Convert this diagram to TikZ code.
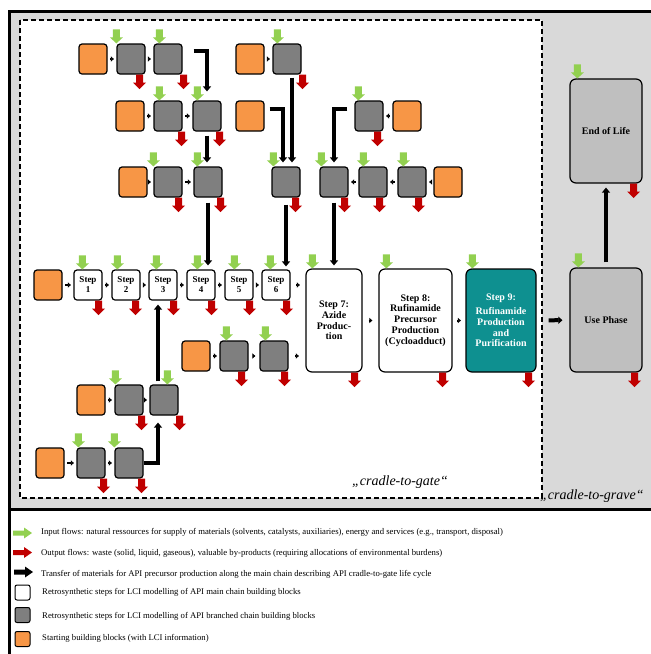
\documentclass[tikz,border=0pt]{standalone}
\usepackage{fontspec}
\setmainfont{Liberation Serif}
\usetikzlibrary{arrows.meta}
\definecolor{greenIn}{HTML}{92D050}
\definecolor{redOut}{HTML}{C00000}
\definecolor{orangeStart}{HTML}{F79646}
\definecolor{grayBranch}{HTML}{7F7F7F}
\definecolor{tealFinal}{HTML}{0E9090}
\definecolor{grayPhase}{HTML}{BFBFBF}
\definecolor{grayFrame}{HTML}{D9D9D9}
\tikzset{
  pics/inFlow/.style={code={%
    \fill[greenIn] (-3.5,-14) -- (3.5,-14) -- (3.5,-6) -- (6.5,-6)
      -- (0,0) -- (-6.5,-6) -- (-3.5,-6) -- cycle;}},          % green arrow down onto box
  pics/outFlow/.style={code={%
    \fill[redOut] (-3.5,0) -- (3.5,0) -- (3.5,8) -- (6.5,8)
      -- (0,14.5) -- (-6.5,8) -- (-3.5,8) -- cycle;}},         % red arrow down out of box
  pics/keyArrow/.style={code={%
    \fill[#1] (0,-2.5) -- (11,-2.5) -- (11,-5.5) -- (19,0)
      -- (11,5.5) -- (11,2.5) -- (0,2.5) -- cycle;}},          % legend arrow
  box/.style={draw=black,line width=1.2pt,rounded corners=3pt,
    minimum width=28pt,minimum height=30pt,inner sep=0pt},
  startBox/.style={box,fill=orangeStart},
  branchBox/.style={box,fill=grayBranch},
  stepBox/.style={box,fill=white,align=center,
    font=\fontsize{9}{10}\selectfont\bfseries},
  bigStep/.style={box,fill=white,rounded corners=6pt,minimum height=103pt,
    align=center,font=\fontsize{10}{10.8}\selectfont\bfseries},
  phaseBox/.style={bigStep,fill=grayPhase,minimum width=72pt,minimum height=104pt},
  keyBox/.style={box,line width=1pt,rounded corners=2pt,minimum width=15pt,minimum height=15pt},
  keyText/.style={anchor=west,inner sep=0pt,font=\fontsize{8.7}{10}\selectfont},
  scopeText/.style={inner sep=0pt,font=\fontsize{14}{16}\selectfont\itshape},
  xfer/.style={line width=3.2pt,-{Triangle[length=5pt,width=8pt]}},
  tinyArr/.style={line width=2pt,-{Triangle[length=3pt,width=5pt]},
    shorten <=#1,shorten >=#1},
  tinyArr/.default=2.5pt,
}
% #1 node, #2 green shift from west, #3 red shift from east
\newcommand{\flowsOn}[3]{%
  \pic at ([xshift=#2pt]#1.north west) {inFlow};
  \pic at ([xshift=#3pt]#1.south east) {outFlow};
}

\begin{document}
\begin{tikzpicture}[x=1pt,y=-1pt]
  \useasboundingbox (0,0) rectangle (651,654);
  \fill[grayFrame] (9,11) rectangle (651,509);
  \fill[white] (20,20) rectangle (542,498);
  \draw[line width=1.4pt,dash pattern=on 5pt off 3pt] (20,20) rectangle (542,498);
  \draw[line width=3pt] (651,11.5) -- (9.5,11.5) -- (9.5,654);
  \draw[line width=3pt] (9.5,509.5) -- (651,509.5);

  % branched chains
  \node[startBox]  (oA)  at (93,59)   {};
  \node[branchBox] (gA1) at (131,59)  {};
  \node[branchBox] (gA2) at (168,59)  {};
  \node[startBox]  (oB)  at (250,59)  {};
  \node[branchBox] (gB)  at (287,59)  {};
  \node[startBox]  (oC)  at (130,116) {};
  \node[branchBox] (gC1) at (168,116) {};
  \node[branchBox] (gC2) at (207,116) {};
  \node[startBox]  (oD)  at (250,116) {};
  \node[branchBox] (gE)  at (369,116) {};
  \node[startBox]  (oE)  at (407,116) {};
  \node[startBox]  (oF)  at (133,182) {};
  \node[branchBox] (gF1) at (168,182) {};
  \node[branchBox] (gF2) at (208,182) {};
  \node[branchBox] (gG)  at (286,182) {};
  \node[branchBox] (gH1) at (334,182) {};
  \node[branchBox] (gH2) at (373,182) {};
  \node[branchBox] (gH3) at (412,182) {};
  \node[startBox]  (oH)  at (448,182) {};
  \node[startBox]  (oK)  at (196,356) {};
  \node[branchBox] (gK1) at (234,356) {};
  \node[branchBox] (gK2) at (274,356) {};
  \node[startBox]  (oL)  at (91,400)  {};
  \node[branchBox] (gL1) at (129,400) {};
  \node[branchBox] (gL2) at (164,400) {};
  \node[startBox]  (oN)  at (50,463)  {};
  \node[branchBox] (gN1) at (91,463)  {};
  \node[branchBox] (gN2) at (129,463) {};

  % main chain
  \node[startBox] (oM) at (48,285)  {};
  \node[stepBox]  (s1) at (88,285)  {Step\\1};
  \node[stepBox]  (s2) at (126,285) {Step\\2};
  \node[stepBox]  (s3) at (163,285) {Step\\3};
  \node[stepBox]  (s4) at (201,285) {Step\\4};
  \node[stepBox]  (s5) at (239,285) {Step\\5};
  \node[stepBox]  (s6) at (276,285) {Step\\6};
  \node[bigStep,minimum width=56pt] (s7) at (334,320.5) {Step 7:\\Azide\\Produc-\\tion};
  \node[bigStep,minimum width=73pt] (s8) at (415.5,320.5)
    {Step 8:\\Rufinamide\\Precursor\\Production\\(Cycloadduct)};
  \node[bigStep,minimum width=70pt,fill=tealFinal,text=white] (s9) at (501,320.5)
    {Step 9:\\[3pt]Rufinamide\\Production\\and\\Purification};
  \node[phaseBox] (use) at (606,320) {Use Phase};
  \node[phaseBox] (eol) at (606,131) {End of Life};

  % input and output flows
  \flowsOn{gA1}{0}{-6}   \flowsOn{gA2}{6}{1}    \flowsOn{gB}{5}{1}
  \flowsOn{gC1}{6}{-1}   \flowsOn{gC2}{5}{-2}   \flowsOn{gE}{4}{-6}
  \flowsOn{gF1}{0}{-4}   \flowsOn{gF2}{4}{-2}   \flowsOn{gG}{2}{-5}
  \flowsOn{gH1}{2}{-4}   \flowsOn{gH2}{5}{-8}   \flowsOn{gH3}{6}{-8}
  \flowsOn{gK1}{7}{-7}   \flowsOn{gK2}{6}{-4}
  \flowsOn{gL1}{1}{-2}   \flowsOn{gL2}{18}{1}
  \flowsOn{gN1}{2}{-2}   \flowsOn{gN2}{0}{-2}
  \flowsOn{s1}{9}{-4}    \flowsOn{s2}{6}{-5}    \flowsOn{s3}{8}{-4}
  \flowsOn{s4}{11}{-4}   \flowsOn{s5}{10}{-4}   \flowsOn{s6}{9}{-4}
  \flowsOn{s7}{7}{-8}    \flowsOn{s8}{8}{-10}   \flowsOn{s9}{7}{-8}
  \flowsOn{use}{9}{-8}   \flowsOn{eol}{8}{-9}

  % short links inside the chains
  \draw[tinyArr] (oA) -- (gA1);   \draw[tinyArr] (gA1) -- (gA2);
  \draw[tinyArr] (oB) -- (gB);
  \draw[tinyArr] (oC) -- (gC1);   \draw[tinyArr] (gC1) -- (gC2);
  \draw[tinyArr] (oE) -- (gE);
  \draw[tinyArr] (oF) -- (gF1);   \draw[tinyArr] (gF1) -- (gF2);
  \draw[tinyArr] (oH) -- (gH3);   \draw[tinyArr] (gH3) -- (gH2);
  \draw[tinyArr] (gH2) -- (gH1);
  \draw[tinyArr] (oM) -- (s1);    \draw[tinyArr] (s1) -- (s2);
  \draw[tinyArr] (s2) -- (s3);    \draw[tinyArr] (s3) -- (s4);
  \draw[tinyArr] (s4) -- (s5);    \draw[tinyArr] (s5) -- (s6);
  \draw[tinyArr=5.5pt] (s6.east) -- (s6.east -| s7.west);
  \draw[tinyArr=6pt] (s7) -- (s8);
  \draw[tinyArr=4.5pt] (s8) -- (s9);
  \draw[tinyArr] (oK) -- (gK1);   \draw[tinyArr=4pt] (gK1) -- (gK2);
  \draw[tinyArr=6.5pt] (gK2.east) -- (gK2.east -| s7.west);
  \draw[tinyArr] (oL) -- (gL1);   \draw[tinyArr] (gL1) -- (gL2);
  \draw[tinyArr] (oN) -- (gN1);   \draw[tinyArr] (gN1) -- (gN2);

  % transfer to the main chain
  \draw[xfer,shorten <=11pt,shorten >=9pt] ([yshift=8pt]gA2.east) -| (gC2.north);
  \draw[xfer,shorten <=4pt,shorten >=4pt] (gC2.south) -- (gC2.south |- gF2.north);
  \draw[xfer,shorten <=5pt,shorten >=4pt] (gF2.south) -- (gF2.south |- s4.north);
  \draw[xfer,shorten <=3pt,shorten >=4pt] ([xshift=5pt]gB.south) -- ([xshift=5pt]gB.south |- gG.north);
  \draw[xfer,shorten <=5pt,shorten >=4pt] ([yshift=7pt]oD.east) -| ([xshift=-3pt]gG.north);
  \draw[xfer,shorten <=7pt,shorten >=3pt] (gG.south) -- (gG.south |- s6.north);
  \draw[xfer,shorten <=7pt,shorten >=4pt] ([yshift=7pt]gE.west) -| (gH1.north);
  \draw[xfer,shorten <=5pt,shorten >=3pt] (gH1.south) -- (gH1.south |- s7.north);
  \draw[xfer,shorten <=3pt,shorten >=4pt] ([xshift=-6pt]gL2.north) -- ([xshift=-6pt]gL2.north |- s3.south);
  \draw[xfer,shorten >=7pt] (gN2.east) -| ([xshift=-6pt]gL2.south);
  \draw[line width=4pt,-{Triangle[length=4pt,width=7pt]},shorten <=12pt,shorten >=7pt] (s9) -- (use);
  \draw[xfer,shorten <=5pt,shorten >=4pt] (use.north) -- (eol.south);

  \node[scopeText] (gateLbl) at (400,482) {„cradle-to-gate“};
  \node[scopeText,anchor=west] (graveLbl) at (540,496) {„cradle-to-grave“};

  % legend
  \pic at (13,533) {keyArrow=greenIn};
  \pic at (13,552.5) {keyArrow=redOut};
  \pic at (14,572) {keyArrow=black};
  \node[keyBox,fill=white]       (keyMain)   at (22.5,592.5) {};
  \node[keyBox,fill=grayBranch]  (keyBranch) at (22.5,615)   {};
  \node[keyBox,fill=orangeStart] (keyStart)  at (22.5,639)   {};
  \node[keyText] (txtIn)     at (41,532) {Input flows: natural ressources for supply of materials (solvents, catalysts, auxiliaries), energy and services (e.g., transport, disposal)};
  \node[keyText] (txtOut)    at (41,553) {Output flows: waste (solid, liquid, gaseous), valuable by-products (requiring allocations of environmental burdens)};
  \node[keyText] (txtXfer)   at (41,574) {Transfer of materials for API precursor production along the main chain describing API cradle-to-gate life cycle};
  \node[keyText] (txtMain)   at (42,592) {Retrosynthetic steps for LCI modelling of API main chain building blocks};
  \node[keyText] (txtBranch) at (42,616) {Retrosynthetic steps for LCI modelling of API branched chain building blocks};
  \node[keyText] (txtStart)  at (42,638) {Starting building blocks (with LCI information)};
\end{tikzpicture}
\end{document}
